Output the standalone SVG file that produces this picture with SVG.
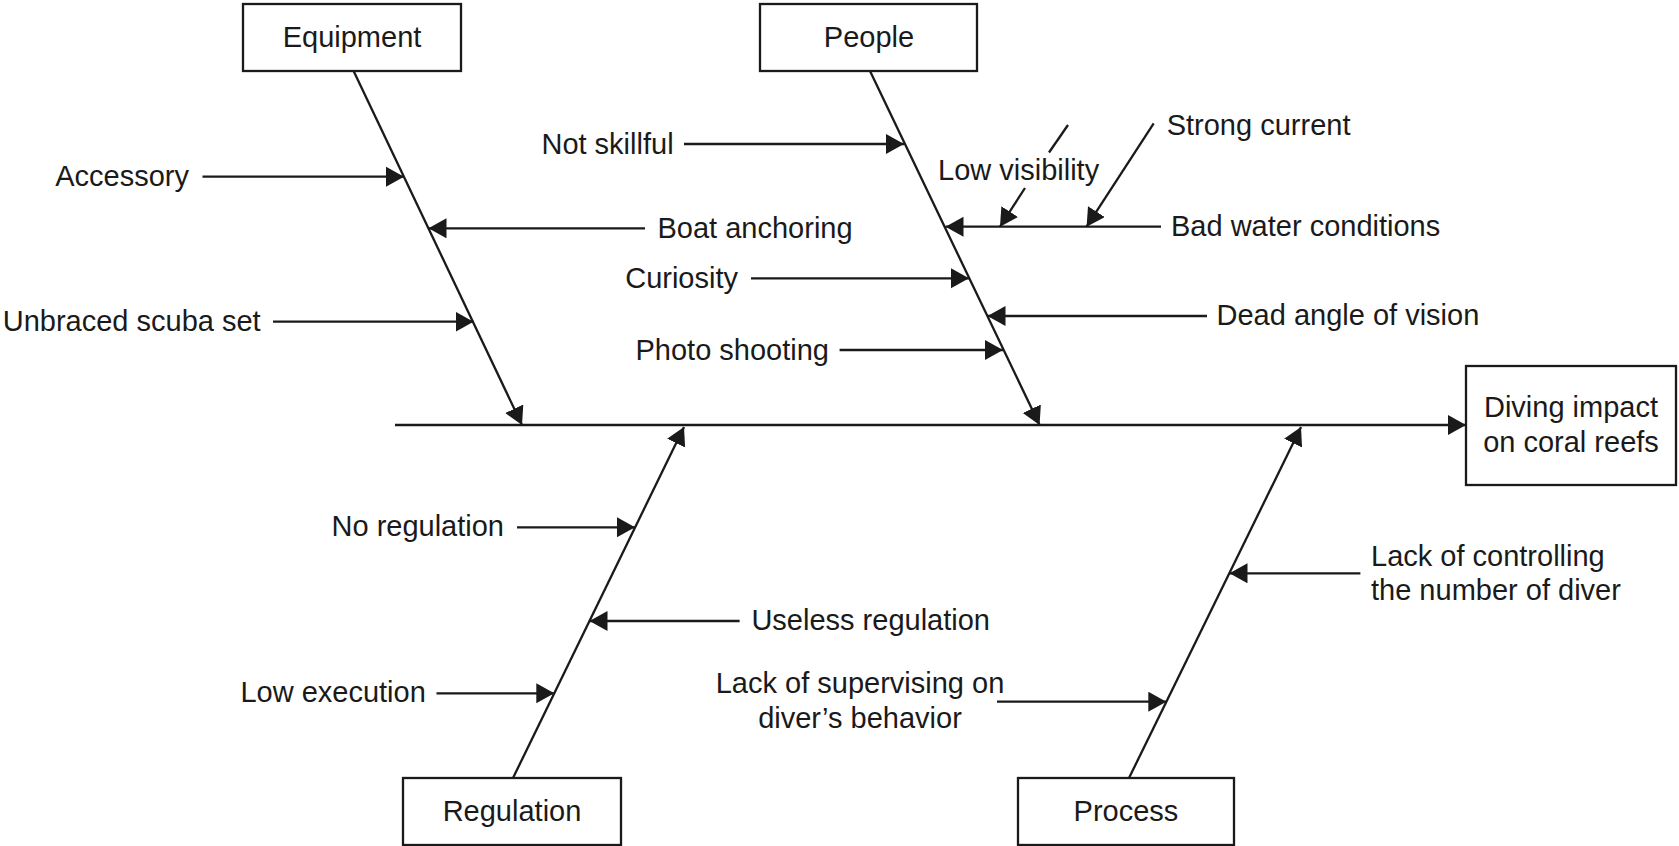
<svg xmlns="http://www.w3.org/2000/svg" width="1679" height="846" viewBox="0 0 1679 846">
<style>
  .box { fill: #ffffff; stroke: #1a1a1a; stroke-width: 2.3; }
  .ln { stroke: #1a1a1a; stroke-width: 2.3; fill: none; }
  .main { stroke: #1a1a1a; stroke-width: 2.6; fill: none; }
  text { font-family: "Liberation Sans", Arial, Helvetica, sans-serif; font-size: 29px; fill: #1a1a1a; }
  .c { text-anchor: middle; }
  .e { text-anchor: end; }
  .s { text-anchor: start; }
</style>
<defs>
  <marker id="ah" markerUnits="userSpaceOnUse" markerWidth="20" markerHeight="22" refX="18" refY="10" orient="auto">
    <path d="M0,0 L18,10 L0,20 Z" fill="#1a1a1a"/>
  </marker>
</defs>
<rect width="1679" height="846" fill="#ffffff"/>

<g id="connectors">
  <!-- main spine -->
  <line class="main" x1="395" y1="425" x2="1466" y2="425" marker-end="url(#ah)"/>
  <!-- category bones -->
  <line class="ln" x1="353.6" y1="71" x2="522" y2="425" marker-end="url(#ah)"/>
  <line class="ln" x1="870" y1="71" x2="1039.6" y2="425" marker-end="url(#ah)"/>
  <line class="ln" x1="513" y1="778" x2="684" y2="427" marker-end="url(#ah)"/>
  <line class="ln" x1="1129" y1="778" x2="1301" y2="427" marker-end="url(#ah)"/>
  <!-- Equipment causes -->
  <line class="ln" x1="202.5" y1="176.7" x2="404" y2="176.7" marker-end="url(#ah)"/>
  <line class="ln" x1="645" y1="228.3" x2="428.5" y2="228.3" marker-end="url(#ah)"/>
  <line class="ln" x1="273" y1="321.7" x2="473.5" y2="321.7" marker-end="url(#ah)"/>
  <!-- People causes -->
  <line class="ln" x1="684" y1="144" x2="904" y2="144" marker-end="url(#ah)"/>
  <line class="ln" x1="1161" y1="226.7" x2="945.5" y2="226.7" marker-end="url(#ah)"/>
  <line class="ln" x1="1068" y1="125" x2="1049" y2="152.5"/>
  <line class="ln" x1="1025" y1="188" x2="1000" y2="226.7" marker-end="url(#ah)"/>
  <line class="ln" x1="1153.7" y1="123.3" x2="1086.6" y2="226.7" marker-end="url(#ah)"/>
  <line class="ln" x1="751" y1="278.3" x2="969" y2="278.3" marker-end="url(#ah)"/>
  <line class="ln" x1="1207" y1="316" x2="987.5" y2="316" marker-end="url(#ah)"/>
  <line class="ln" x1="839.6" y1="350" x2="1003" y2="350" marker-end="url(#ah)"/>
  <!-- Regulation causes -->
  <line class="ln" x1="517" y1="527.3" x2="635" y2="527.3" marker-end="url(#ah)"/>
  <line class="ln" x1="739.6" y1="621" x2="589.5" y2="621" marker-end="url(#ah)"/>
  <line class="ln" x1="436.5" y1="693.3" x2="554.3" y2="693.3" marker-end="url(#ah)"/>
  <!-- Process causes -->
  <line class="ln" x1="1360.4" y1="573.3" x2="1229.5" y2="573.3" marker-end="url(#ah)"/>
  <line class="ln" x1="997" y1="701.7" x2="1166.3" y2="701.7" marker-end="url(#ah)"/>
</g>

<g id="node-equipment">
  <rect class="box" x="243" y="4" width="218" height="67"/>
  <text class="c" x="352" y="47">Equipment</text>
</g>
<g id="node-people">
  <rect class="box" x="760" y="4" width="217" height="67"/>
  <text class="c" x="869" y="47">People</text>
</g>
<g id="node-regulation">
  <rect class="box" x="403" y="778" width="218" height="67"/>
  <text class="c" x="512" y="821">Regulation</text>
</g>
<g id="node-process">
  <rect class="box" x="1018" y="778" width="216" height="67"/>
  <text class="c" x="1126" y="821">Process</text>
</g>
<g id="node-effect">
  <rect class="box" x="1466" y="366" width="210" height="119"/>
  <text class="c" x="1571" y="417">Diving impact</text>
  <text class="c" x="1571" y="452">on coral reefs</text>
</g>

<g id="labels">
  <text class="e" x="189" y="186">Accessory</text>
  <text class="s" x="657.5" y="237.5">Boat anchoring</text>
  <text class="e" x="260.7" y="331">Unbraced scuba set</text>
  <text class="e" x="673.6" y="153.5">Not skillful</text>
  <text class="s" x="938" y="180">Low visibility</text>
  <text class="s" x="1166.7" y="134.5">Strong current</text>
  <text class="s" x="1171" y="235.5">Bad water conditions</text>
  <text class="e" x="738" y="287.5">Curiosity</text>
  <text class="s" x="1216.5" y="325">Dead angle of vision</text>
  <text class="e" x="829" y="359.5">Photo shooting</text>
  <text class="e" x="504" y="536">No regulation</text>
  <text class="s" x="751.4" y="630">Useless regulation</text>
  <text class="e" x="425.8" y="702">Low execution</text>
  <text class="s" x="1371" y="566">Lack of controlling</text>
  <text class="s" x="1371" y="600">the number of diver</text>
  <text class="c" x="860" y="693">Lack of supervising on</text>
  <text class="c" x="860" y="728">diver’s behavior</text>
</g>
</svg>
